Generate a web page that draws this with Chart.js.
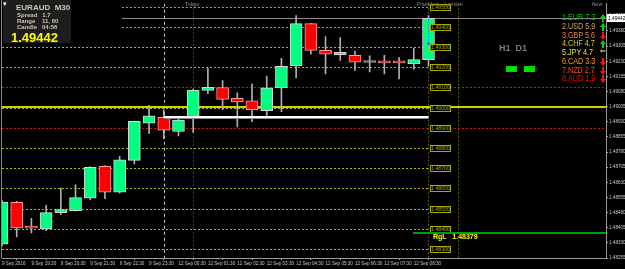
<!DOCTYPE html>
<html>
<head>
<meta charset="utf-8">
<script src="https://cdn.jsdelivr.net/npm/chart.js@4.4.0/dist/chart.umd.min.js"></script>
<style>
    body { margin: 0; background: #000; }
    #wrap { position: relative; width: 625px; height: 269px; overflow: hidden; background: #000; }
    #wrap canvas { position: absolute; left: 0; top: 0; }
    .t { position: absolute; white-space: pre; font-family: "Liberation Sans", Arial, sans-serif; line-height: 1; }
    .cur { transform: scaleX(0.86); transform-origin: left top; }
    .head { position: absolute; width: 0; height: 0; border-left: 3px solid transparent; border-right: 3px solid transparent; }
    .stem { position: absolute; width: 2px; height: 4px; }
    .info { position: absolute; left: 3px; top: 0px; width: 68px; height: 43px; background: #1d1d1d; }
</style>
</head>
<body>
<div id="wrap">
    <canvas id="myChart" width="625" height="269"></canvas>

    <div class="info"></div>
    <div class="t" style="left:3px;top:0px;font-size:7px;color:#fff;">&#9662;</div>
    <div class="t" style="left:16px;top:4px;font-size:8px;font-weight:bold;color:#cfc6ac;">EURAUD  M30</div>
    <div class="t" style="left:17px;top:12px;font-size:6px;font-weight:bold;color:#cfc6ac;">Spread   1.7</div>
    <div class="t" style="left:17px;top:18px;font-size:6px;font-weight:bold;color:#cfc6ac;">Range    11, 60</div>
    <div class="t" style="left:17px;top:24px;font-size:6px;font-weight:bold;color:#cfc6ac;">Candle   04:56</div>
    <div class="t" style="left:11px;top:31px;font-size:13px;font-weight:bold;color:#ffff00;">1.49442</div>

    <div class="t" style="left:185px;top:2px;font-size:5px;font-weight:bold;color:#6a6a6a;">Tokyo</div>
    <div class="t" style="left:417px;top:2px;font-size:5px;font-weight:bold;color:#6a6a6a;">Frankfurt    London</div>
    <div class="t" style="left:592px;top:2px;font-size:5px;font-weight:bold;color:#6a6a6a;">New</div>

    <div class="t" style="left:499px;top:44px;font-size:9px;font-weight:bold;color:#7a7a7a;">H1  D1</div>
    <div style="position:absolute;left:506px;top:66px;width:11px;height:6px;background:#00e000;"></div>
    <div style="position:absolute;left:524px;top:66px;width:11px;height:6px;background:#00e000;"></div>

    <div class="t" style="left:433px;top:233px;font-size:7px;font-weight:bold;color:#ffff00;">RgL   1.48379</div>

    <div id="strength"></div>
</div>

<script>
// candles, M30 EURAUD, 9 Sep 18:30 -> 12 Sep 09:00
const open  = [1.48324, 1.48531, 1.48406, 1.48399, 1.48480, 1.48490, 1.48552, 1.48709, 1.48581, 1.48739,
               1.48923, 1.48952, 1.48882, 1.48947, 1.49085, 1.49100, 1.49046, 1.49034, 1.48985, 1.49098,
               1.49208, 1.49416, 1.49284, 1.49262, 1.49259, 1.49224, 1.49225, 1.49225, 1.49218, 1.49238];
const high  = [1.48541, 1.48536, 1.48452, 1.48516, 1.48601, 1.48618, 1.48708, 1.48713, 1.48759, 1.48934,
               1.49011, 1.48988, 1.48950, 1.49092, 1.49196, 1.49134, 1.49073, 1.49118, 1.49156, 1.49244,
               1.49456, 1.49418, 1.49352, 1.49347, 1.49279, 1.49257, 1.49259, 1.49249, 1.49295, 1.49456];
const low   = [1.48314, 1.48360, 1.48380, 1.48390, 1.48470, 1.48487, 1.48544, 1.48549, 1.48578, 1.48721,
               1.48872, 1.48847, 1.48860, 1.48877, 1.49069, 1.48990, 1.48905, 1.48931, 1.48954, 1.48980,
               1.49147, 1.49265, 1.49167, 1.49234, 1.49184, 1.49177, 1.49167, 1.49142, 1.49189, 1.49205];
const close = [1.48532, 1.48404, 1.48403, 1.48480, 1.48495, 1.48554, 1.48704, 1.48581, 1.48742, 1.48932,
               1.48959, 1.48888, 1.48939, 1.49087, 1.49101, 1.49041, 1.49029, 1.48990, 1.49098, 1.49205,
               1.49416, 1.49284, 1.49265, 1.49274, 1.49226, 1.49224, 1.49222, 1.49222, 1.49238, 1.49442];

// time labels, one every 2 candles
const timeLabels = ['9 Sep 2016', '9 Sep 19:30', '9 Sep 20:30', '9 Sep 21:30', '9 Sep 22:30', '9 Sep 23:30',
                    '12 Sep 00:30', '12 Sep 01:30', '12 Sep 02:30', '12 Sep 03:30', '12 Sep 04:30',
                    '12 Sep 05:30', '12 Sep 06:30', '12 Sep 07:30', '12 Sep 08:30'];

// right price axis
const priceTicks = [1.48255, 1.48330, 1.48405, 1.48480, 1.48555, 1.48630, 1.48705, 1.48780, 1.48855,
                    1.48930, 1.49005, 1.49080, 1.49155, 1.49230, 1.49305, 1.49380, 1.49455];

// round levels with boxes
const levels = [1.495, 1.494, 1.493, 1.492, 1.491, 1.490, 1.489, 1.488, 1.487, 1.486, 1.485, 1.484, 1.483];
const redLevels = [1.491, 1.489];
const yellowLine = 1.49003;
const whiteLine = 1.48954;
const bid = 1.49442;
const rgl = 1.48379;

// currency strength
const currencies = ['1.EUR', '2.USD', '3.GBP', '4.CHF', '5.JPY', '6.CAD', '7.NZD', '8.AUD'];
const strength = [7.3, 5.9, 5.6, 4.7, 4.7, 3.3, 2.7, 1.9];
const trend = ['up', 'up', 'down', 'up', 'flat', 'down', 'down', 'down'];
const curColors = ['#00c800', '#e0a060', '#e08848', '#e6d000', '#e6e040', '#ffa000', '#ff4a20', '#ff0000'];

let sHtml = '';
for (let i = 0; i < currencies.length; i++) {
    let top = 13 + i * 8.76;
    sHtml += `<div class="t cur" style="left:562px;top:${top}px;font-size:8.4px;font-weight:500;color:${curColors[i]};">${currencies[i]} ${strength[i].toFixed(1)}</div>`;
    // little arrows
    if (trend[i] == 'up') {
        sHtml += `<div class="head" style="left:600px;top:${top + 1}px;border-bottom:4px solid #00d000;"></div>`;
        sHtml += `<div class="stem" style="left:602px;top:${top + 5}px;background:#00d000;"></div>`;
    } else if (trend[i] == 'down') {
        sHtml += `<div class="stem" style="left:602px;top:${top + 1}px;background:#ff1010;"></div>`;
        sHtml += `<div class="head" style="left:600px;top:${top + 5}px;border-top:4px solid #ff1010;"></div>`;
    } else {
        sHtml += `<div class="t" style="left:600px;top:${top}px;font-size:7px;font-weight:bold;font-family:'DejaVu Sans';color:#e6e040;">&#8656;</div>`;
    }
}
document.getElementById('strength').innerHTML = sHtml;

const idx = open.map((v, i) => i);
const bodyFill = idx.map(i => close[i] > open[i] ? '#00ff80' : (close[i] < open[i] ? '#ff0000' : '#909090'));
const bodyLine = idx.map(i => close[i] > open[i] ? '#d8d8d8' : (close[i] < open[i] ? '#ff9a9a' : '#a0a0a0'));

const FONT = '"Liberation Sans", Arial, sans-serif';

function hline(ctx, y, x0, x1, color, width, dash) {
    ctx.beginPath();
    ctx.strokeStyle = color;
    ctx.lineWidth = width;
    ctx.setLineDash(dash || []);
    ctx.moveTo(x0, y);
    ctx.lineTo(x1, y);
    ctx.stroke();
}

function vline(ctx, x, y0, y1, color, width, dash) {
    ctx.beginPath();
    ctx.strokeStyle = color;
    ctx.lineWidth = width;
    ctx.setLineDash(dash || []);
    ctx.moveTo(x, y0);
    ctx.lineTo(x, y1);
    ctx.stroke();
}

const overlay = {
    id: 'overlay',
    beforeDatasetsDraw(chart) {
        const ctx = chart.ctx;
        const a = chart.chartArea;
        const xs = chart.scales.x, ys = chart.scales.y;
        const py = v => Math.round(ys.getPixelForValue(v)) + 0.5;
        const boxX = xs.getPixelForValue(29.1);
        ctx.save();

        // session / day separators
        vline(ctx, Math.round(xs.getPixelForValue(11)) + 0.5, a.top, a.bottom, '#c8c8c8', 1, [3, 3]);
        vline(ctx, Math.round(xs.getPixelForValue(13)) + 0.5, a.top, a.bottom, '#2f5c00', 1, [2, 2]);
        vline(ctx, Math.round(xs.getPixelForValue(29)) + 0.5, a.top, a.bottom, '#5c5c00', 1, [2, 2]);
        vline(ctx, Math.round(xs.getPixelForValue(31)) + 0.5, a.top, a.bottom, '#5c5c00', 1, [2, 2]);

        // dotted round levels
        levels.forEach(v => {
            let x0 = v >= 1.494 ? xs.getPixelForValue(8.15) : a.left;
            hline(ctx, py(v), x0, boxX, '#b4b400', 1, [2, 2]);
        });
        redLevels.forEach(v => {
            hline(ctx, py(v), a.left, a.right, '#c02000', 1, [2, 2]);
        });

        // bid line
        hline(ctx, py(bid), xs.getPixelForValue(8.15), a.right, '#8a8a8a', 1);
        // solid yellow line
        hline(ctx, Math.round(ys.getPixelForValue(yellowLine)), a.left, a.right, '#d2d200', 2);
        ctx.restore();
    },
    afterDatasetsDraw(chart) {
        const ctx = chart.ctx;
        const a = chart.chartArea;
        const xs = chart.scales.x, ys = chart.scales.y;
        const py = v => Math.round(ys.getPixelForValue(v)) + 0.5;
        ctx.save();

        // white pivot line
        let wy = Math.round(ys.getPixelForValue(whiteLine));
        hline(ctx, wy, xs.getPixelForValue(11), xs.getPixelForValue(29), '#ffffff', 2);
        hline(ctx, wy + 1.5, xs.getPixelForValue(11), xs.getPixelForValue(29), '#8a8a8a', 1);

        // blue dotted line on current candle
        let bx = Math.round(xs.getPixelForValue(29)) + 0.5;
        vline(ctx, bx, py(bid), py(1.49318), '#3050ff', 1, [1, 2]);
        ctx.setLineDash([]);
        ctx.strokeStyle = '#3050ff';
        ctx.beginPath();
        ctx.moveTo(bx - 2, py(1.49318)); ctx.lineTo(bx + 2, py(1.49318));
        ctx.moveTo(bx, py(1.49318) - 2); ctx.lineTo(bx, py(1.49318) + 2);
        ctx.stroke();

        // level boxes
        let bx0 = Math.round(xs.getPixelForValue(29.1)) + 0.5;
        ctx.font = '5.2px ' + FONT;
        ctx.textBaseline = 'middle';
        ctx.textAlign = 'center';
        levels.forEach(v => {
            let y = py(v);
            ctx.fillStyle = '#000';
            ctx.fillRect(bx0, y - 3, 20, 6);
            ctx.setLineDash([]);
            ctx.lineWidth = 1;
            ctx.strokeStyle = '#a8a800';
            ctx.strokeRect(bx0, y - 3, 20, 6);
            ctx.fillStyle = '#a8a800';
            ctx.fillText(v.toFixed(5), bx0 + 10, y + 0.3);
        });

        // green rgl line
        hline(ctx, Math.round(ys.getPixelForValue(rgl)), xs.getPixelForValue(27.95), a.right, '#00a000', 2);

        // left border
        vline(ctx, 1.5, 0, a.bottom, '#8a8a8a', 1);
        ctx.restore();
    },
    afterDraw(chart) {
        const ctx = chart.ctx;
        const a = chart.chartArea;
        const ys = chart.scales.y;
        let y = Math.round(ys.getPixelForValue(bid));
        ctx.save();
        ctx.fillStyle = '#ffffff';
        ctx.fillRect(a.right + 1, y - 4, 18, 8);
        ctx.fillStyle = '#000';
        ctx.font = '4.8px ' + FONT;
        ctx.textBaseline = 'middle';
        ctx.textAlign = 'left';
        ctx.fillText(bid.toFixed(5), a.right + 2, y + 0.5);
        ctx.restore();
    }
};

let ctx = document.getElementById('myChart');

new Chart(ctx, {
    type: 'bar',
    data: {
        datasets: [{
            label: 'wicks',
            data: idx.map(i => ({x: i, y: [low[i], high[i]]})),
            backgroundColor: '#b0b0b0',
            barThickness: 1,
            grouped: false,
            borderSkipped: false,
            order: 2
        }, {
            label: 'bodies',
            data: idx.map(i => ({x: i, y: [open[i], close[i]]})),
            backgroundColor: bodyFill,
            borderColor: bodyLine,
            borderWidth: 1,
            borderSkipped: false,
            barThickness: 12,
            minBarLength: 2,
            grouped: false,
            order: 1
        }]
    },
    options: {
        responsive: false,
        animation: false,
        events: [],
        layout: { padding: { left: 2, top: 2, right: 0, bottom: 0 } },
        plugins: {
            legend: { display: false },
            tooltip: { enabled: false }
        },
        scales: {
            x: {
                type: 'linear',
                min: 0,
                max: 41.07,
                offset: false,
                afterBuildTicks: s => { s.ticks = timeLabels.map((t, k) => ({ value: k * 2 })); },
                afterFit: s => { s.height = 11; },
                ticks: {
                    callback: (v, i) => timeLabels[i],
                    color: '#c8c8c8',
                    font: { size: 4.6, family: FONT },
                    align: 'start',
                    maxRotation: 0,
                    autoSkip: false,
                    padding: 1
                },
                grid: { drawOnChartArea: false, color: '#a0a0a0', tickLength: 2 },
                border: { color: '#9a9a9a' }
            },
            y: {
                position: 'right',
                min: 1.482552,
                max: 1.495148,
                afterBuildTicks: s => { s.ticks = priceTicks.map(v => ({ value: v })); },
                afterFit: s => { s.width = 19; },
                ticks: {
                    callback: v => v.toFixed(5),
                    color: '#c8c8c8',
                    font: { size: 4.6, family: FONT },
                    padding: 1,
                    crossAlign: 'near'
                },
                grid: { drawOnChartArea: false, color: '#a0a0a0', tickLength: 2 },
                border: { color: '#9a9a9a' }
            }
        }
    },
    plugins: [overlay]
});
</script>
</body>
</html>
